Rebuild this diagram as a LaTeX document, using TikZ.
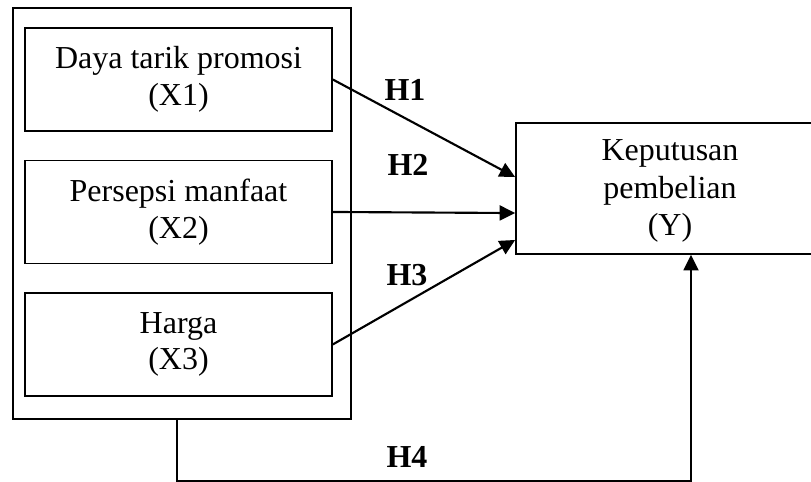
\documentclass[tikz,border=0pt]{standalone}
\usepackage{fontspec}
\setmainfont{Liberation Serif}
\usetikzlibrary{positioning,arrows.meta,calc}

\begin{document}
\begin{tikzpicture}[x=0.3752pt,y=-0.3752pt,
    varbox/.style={rectangle,draw,line width=0.6pt,minimum width=115.2pt,minimum height=38.6pt,align=center,inner sep=0pt,font=\fontsize{12}{13.8}\selectfont},
    groupbox/.style={rectangle,draw,line width=0.6pt,minimum width=126.8pt,minimum height=154.2pt,inner sep=0pt},
    hlabel/.style={font=\fontsize{12}{14}\selectfont\bfseries},
    arrow/.style={-{Triangle[length=5.8pt,width=5.6pt]},line width=0.8pt}
]
\useasboundingbox (0,0) rectangle (811,481);

% Independent variables (left)
\node[groupbox] (group) at (182,213.5) {};
\node[varbox] (x1) at (178.5,79.5) {Daya tarik promosi\\(X1)};
\node[varbox,below=10.5pt of x1] (x2) {Persepsi manfaat\\(X2)};
\node[varbox,below=10.5pt of x2] (x3) {Harga\\(X3)};

% Dependent variable (right)
\node[varbox,minimum width=115.6pt,minimum height=49.2pt] (y) at (670,188.5) {};
\node[align=center,font=\fontsize{12}{14}\selectfont] (y-text) at (670,191) {Keputusan\\pembelian\\(Y)};

% Partial hypotheses
\draw[arrow] (x1.east) -- ([yshift=4.3pt]y.west);
\draw[arrow] (x2.east) -- ([yshift=-9.2pt]y.west);
\draw[arrow] (x3.east) -- ([yshift=-19.3pt]y.west);

\node[hlabel] (h1) at (405,90) {H1};
\node[hlabel] (h2) at (408,165) {H2};
\node[hlabel] (h3) at (407,275) {H3};

% Simultaneous hypothesis
\coordinate (h4-a) at (177,481.5);
\coordinate (h4-b) at (691,481.5);
\draw[arrow] (group.south -| h4-a) -- (h4-a) -- (h4-b) -- (y.south -| h4-b);
\node[hlabel] (h4) at (407,457) {H4};

\end{tikzpicture}
\end{document}
